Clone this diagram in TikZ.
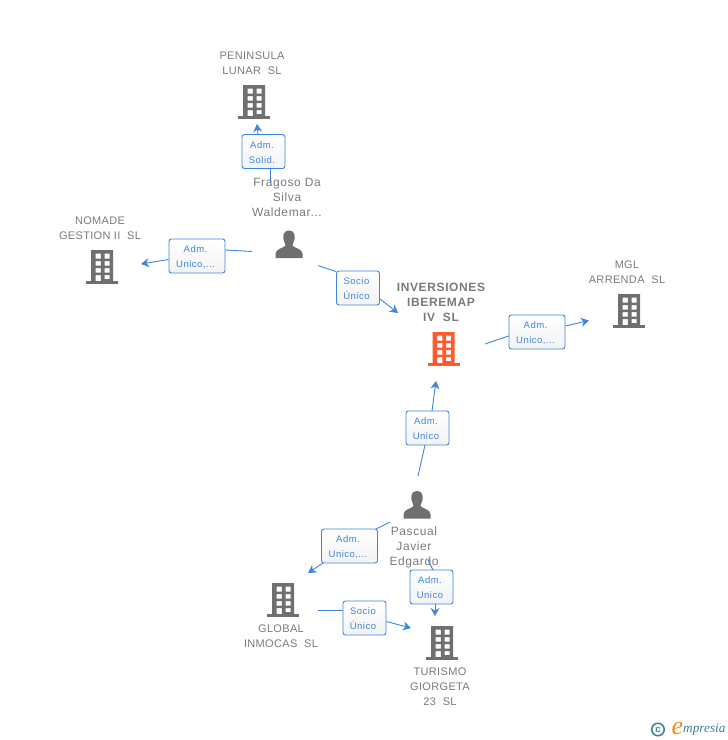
\documentclass[tikz,border=0pt]{standalone}
\usepackage{fontspec}
\setmainfont{Liberation Sans}
\newfontfamily\orgfont[LetterSpace=3]{Liberation Sans}
\newfontfamily\mainorgfont[LetterSpace=5.2]{Liberation Sans Bold}
\newfontfamily\personfont[LetterSpace=5]{Liberation Sans}
\newfontfamily\tagfont[LetterSpace=5]{Liberation Sans}
\newfontfamily\logofont{Liberation Serif Italic}
\usetikzlibrary{arrows.meta}
\definecolor{linkblue}{HTML}{3C85E0}
\definecolor{greytxt}{HTML}{7A7A7A}
\definecolor{iconGrey}{HTML}{6F6F6F}
\definecolor{iconOrange}{HTML}{FF5A2B}
\definecolor{logoTeal}{HTML}{3F7F99}
\definecolor{logoOrange}{HTML}{F08A1D}
\tikzset{
  x=1pt,y=-1pt,
  lnk/.style={draw=linkblue,line width=0.9pt},
  lnkarrow/.style={lnk,-{Stealth[length=8pt,width=9pt,inset=2.5pt]}},
  tagbox/.style={draw=linkblue,line width=0.9pt,rounded corners=2.5pt,top color=white,bottom color=black!5,
     minimum height=34pt,inner sep=0pt,text=linkblue,font=\tagfont\fontsize{9.5}{15}\selectfont},
  taga/.style={tagbox,minimum width=43pt},
  tagb/.style={tagbox,minimum width=56pt},
  orglabel/.style={align=center,text=greytxt,inner sep=0pt,font=\orgfont\fontsize{11}{15}\selectfont},
  mainlabel/.style={align=center,text=greytxt,inner sep=0pt,font=\mainorgfont\fontsize{12}{15}\selectfont},
  personlabel/.style={align=center,text=greytxt,inner sep=0pt,font=\personfont\fontsize{12}{15}\selectfont},
  iconanchor/.style={inner sep=0pt,minimum size=1pt},
}
% two-line tag text, set slightly left of and below the centre of its box
\newcommand{\tg}[2]{\hbox{\vbox{\vskip2pt\baselineskip=15pt\halign{\hfil##\hfil\cr#1\cr#2\cr}}\kern3pt}}
% building icon centred at x, top y=#2
\newcommand{\bldg}[4]{%
  \node[iconanchor] (#4) at (#1,#2+16.5) {};
  \begin{scope}[shift={(#1,#2)}]
    \fill[#3,even odd rule] (-11,0) rectangle (11,31)
      (-6.5,3.5) rectangle (-1.2,8.5) (2.5,3.5) rectangle (7.5,8.5)
      (-6.5,11) rectangle (-1.2,15.5) (2.5,11) rectangle (7.5,15.5)
      (-6.5,18) rectangle (-1.2,22.5) (2.5,18) rectangle (7.5,22.5)
      (-6.5,25) rectangle (-1.2,31) (2.5,25) rectangle (7.5,29);
    \fill[#3] (-16,31) rectangle (16,33.5);
  \end{scope}}
% person icon centred at x, top y=#2
\newcommand{\persn}[3]{%
  \node[iconanchor] (#3) at (#1,#2+14) {};
  \begin{scope}[shift={(#1,#2)}]
    \fill[iconGrey] (0,0) .. controls (-5.5,0) and (-6.2,5) .. (-5.5,8.5)
      .. controls (-5,11.5) and (-3.8,13) .. (-3.5,15)
      .. controls (-5,17.5) and (-13,18) .. (-13.5,23)
      -- (-13.5,27.5) -- (13.5,27.5) -- (13.5,23)
      .. controls (13,18) and (5,17.5) .. (3.5,15)
      .. controls (3.8,13) and (5,11.5) .. (5.5,8.5)
      .. controls (6.2,5) and (5.5,0) .. (0,0) -- cycle;
  \end{scope}}
\begin{document}
\begin{tikzpicture}
\useasboundingbox (0,0) rectangle (728,740);

% icons
\bldg{254}{85}{iconGrey}{peninsula}
\bldg{102}{250}{iconGrey}{nomade}
\bldg{629}{294}{iconGrey}{mgl}
\bldg{443.5}{332}{iconOrange}{inversiones}
\bldg{283}{583}{iconGrey}{globalin}
\bldg{442}{626}{iconGrey}{turismo}
\persn{289}{230.5}{fragoso}
\persn{417}{491}{pascual}

% labels
\node[orglabel] (tpen) at (252,63) {PENINSULA\\LUNAR\ \ SL};
\node[orglabel] (tnom) at (100,228) {NOMADE\\GESTION II\ \ SL};
\node[orglabel] (tmgl) at (627,272) {MGL\\ARRENDA\ \ SL};
\node[mainlabel] (tinv) at (441,302) {INVERSIONES\\IBEREMAP\\IV\ \ SL};
\node[orglabel] (tglo) at (281,636) {GLOBAL\\INMOCAS\ \ SL};
\node[orglabel] (ttur) at (440,686.5) {TURISMO\\GIORGETA\\23\ \ SL};
\node[personlabel] (tfra) at (287,197) {Fragoso Da\\Silva\\Waldemar...};
\node[personlabel] (tpas) at (414,547) {Pascual\\Javier\\Edgardo};

% connector ends
\coordinate (f1) at (270,182);
\coordinate (f1e) at (257,124);
\coordinate (f2) at (252,251.5);
\coordinate (f2e) at (141,264);
\coordinate (f3) at (318,265.5);
\coordinate (f3e) at (398,313);
\coordinate (i1) at (485,344);
\coordinate (i1e) at (589,320.5);
\coordinate (p1) at (418,476);
\coordinate (p1e) at (436,381);
\coordinate (p2) at (390,522);
\coordinate (p2e) at (308,573);
\coordinate (p3) at (428,560);
\coordinate (p3e) at (435,616);
\coordinate (g1) at (318,610);
\coordinate (g1e) at (411,628);

% tags
\node[taga] (t1) at (263.5,151.5) {\tg{Adm.}{Solid.}};
\node[tagb] (t2) at (197,256) {\tg{Adm.}{Unico,...}};
\node[taga] (t3) at (358,288) {\tg{Socio}{Único}};
\node[tagb] (t4) at (537,332) {\tg{Adm.}{Unico,...}};
\node[taga] (t5) at (427.5,428) {\tg{Adm.}{Unico}};
\node[tagb] (t6) at (349.5,546) {\tg{Adm.}{Unico,...}};
\node[taga] (t7) at (431.5,587) {\tg{Adm.}{Unico}};
\node[taga] (t8) at (364.5,618) {\tg{Socio}{Único}};

% connector lines, from a free end to a tag and from the tag to a free end
\draw[lnk] (f1) -- (f1 |- t1.south);
\draw[lnkarrow] (258,135) -- (f1e);
\draw[lnk] (f2) -- (t2.east |- 0,250);
\draw[lnkarrow] (t2.west |- 0,259.5) -- (f2e);
\draw[lnk] (f3) -- (t3.west |- 0,271.5);
\draw[lnkarrow] (t3.east |- 0,299) -- (f3e);
\draw[lnk] (i1) -- (t4.west |- 0,336);
\draw[lnkarrow] (t4.east |- 0,326) -- (i1e);
\draw[lnk] (p1) -- (425,445);
\draw[lnkarrow] (432,411) -- (p1e);
\draw[lnk] (p2) -- (376,529);
\draw[lnkarrow] (323,563) -- (p2e);
\draw[lnk] (p3) -- (433,570);
\draw[lnkarrow] (435,604) -- (p3e);
\draw[lnk] (g1) -- (t8.west |- g1);
\draw[lnkarrow] (t8.east |- 0,621.5) -- (g1e);

% logo
\node[circle,draw=logoTeal,line width=1.5pt,minimum size=12.5pt,inner sep=0pt,text=logoTeal,font=\fontsize{9.5}{9.5}\selectfont\bfseries] (logoc) at (658,729.5) {c};
\node[inner sep=0pt,text=logoOrange,font=\logofont\fontsize{26}{26}\selectfont] (logoe) at (677.5,728) {e};
\node[inner sep=0pt,anchor=west,text=logoTeal,font=\logofont\fontsize{13.3}{14}\selectfont] (logot) at (683,730) {mpresia};
\end{tikzpicture}
\end{document}
